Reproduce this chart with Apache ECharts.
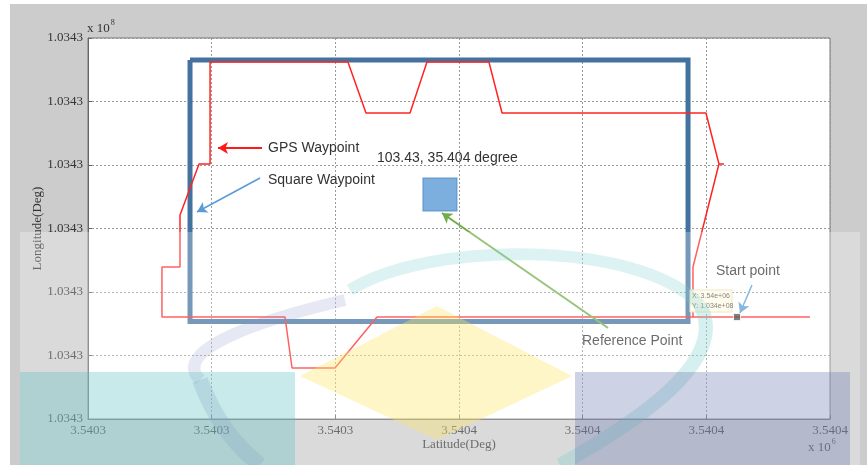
<!DOCTYPE html>
<html>
<head>
<meta charset="utf-8">
<script src="https://cdn.jsdelivr.net/npm/echarts@6/dist/echarts.min.js"></script>
<style>
  html, body { margin: 0; padding: 0; background: #fff; }
  #frame { position: absolute; left: 10px; top: 4px; width: 857px; height: 461px; background: #cccccc; }
  #main { position: absolute; left: 0; top: 0; width: 867px; height: 465px; }
</style>
</head>
<body>
<div id="frame"></div>
<div id="main"></div>
<script>
// Tick labels (axis values are in tick-step units: 0..6)
var xTickLabels = ['3.5403', '3.5403', '3.5403', '3.5404', '3.5404', '3.5404', '3.5404'];
var yTickLabels = ['1.0343', '1.0343', '1.0343', '1.0343', '1.0343', '1.0343', '1.0343'];

// GPS waypoint track
var gpsLat = [5.838, 2.337, 1.997, 1.650, 1.593, 0.598, 0.598, 0.744, 0.744, 0.898, 0.987, 0.987,
              2.102, 2.248, 2.604, 2.741, 3.242, 3.348, 4.997, 5.102, 5.143, 5.102, 4.892, 4.892];
var gpsLon = [1.606, 1.606, 0.803, 0.803, 1.606, 1.606, 2.394, 2.394, 3.213, 4.016, 4.016, 5.622,
              5.622, 4.819, 4.819, 5.622, 5.622, 4.819, 4.819, 4.016, 4.016, 4.016, 2.394, 1.606];

// Square waypoint
var squareLat = [0.825, 4.852, 4.852, 0.825, 0.825];
var squareLon = [5.654, 5.654, 1.535, 1.535, 5.654];

// Reference point and start point
var refPoint = [2.846, 3.535];
var startPoint = [5.248, 1.606];

// Annotation arrows: [fromLat, fromLon, toLat, toLon]
var arrowGps = [1.407, 4.268, 1.051, 4.268];
var arrowSquare = [1.391, 3.795, 0.881, 3.260];
var arrowRef = [4.205, 1.433, 2.862, 3.244];
var arrowStart = [5.369, 2.110, 5.272, 1.669];

function zip(a, b) {
    return a.map(function (v, i) { return [v, b[i]]; });
}
function arrow(a, color, width) {
    return [
        {coord: [a[0], a[1]], lineStyle: {color: color, width: width, type: 'solid'}},
        {coord: [a[2], a[3]], lineStyle: {color: color, width: width, type: 'solid'}}
    ];
}

var chart = echarts.init(document.getElementById('main'));

var serif = 'Liberation Serif, Times New Roman, serif';
var sans = 'Liberation Sans, Arial, sans-serif';

chart.setOption({
    animation: false,
    grid: {
        left: 88, top: 38, width: 742, height: 381,
        show: true, backgroundColor: '#fff', borderColor: '#777', borderWidth: 1
    },
    xAxis: {
        type: 'value', min: 0, max: 6, interval: 1,
        name: 'Latitude(Deg)', nameLocation: 'middle', nameGap: 19, nameMoveOverlap: false,
        nameTextStyle: {fontFamily: serif, fontSize: 13, color: '#333'},
        axisLine: {lineStyle: {color: '#666'}},
        axisTick: {inside: true, length: 4, lineStyle: {color: '#666'}},
        axisLabel: {
            fontFamily: serif, fontSize: 13, color: '#333', margin: 5,
            formatter: function (v) { return xTickLabels[Math.round(v)]; }
        },
        splitLine: {lineStyle: {color: '#999', type: [2, 2]}}
    },
    yAxis: {
        type: 'value', min: 0, max: 6, interval: 1,
        name: 'Longitude(Deg)', nameLocation: 'middle', nameGap: 44, nameMoveOverlap: false,
        nameTextStyle: {fontFamily: serif, fontSize: 13, color: '#333'},
        axisLine: {show: true, lineStyle: {color: '#666'}},
        axisTick: {show: true, inside: true, length: 4, lineStyle: {color: '#666'}},
        axisLabel: {
            fontFamily: serif, fontSize: 13, color: '#333', margin: 5,
            formatter: function (v) { return yTickLabels[Math.round(v)]; }
        },
        splitLine: {lineStyle: {color: '#999', type: [2, 2]}}
    },
    series: [
        {
            name: 'Square Waypoint', type: 'line', data: zip(squareLat, squareLon),
            symbol: 'none', lineStyle: {color: '#43729f', width: 5, join: 'miter'},
            z: 2
        },
        {
            name: 'GPS Waypoint', type: 'line', data: zip(gpsLat, gpsLon),
            symbol: 'none', lineStyle: {color: '#ff2424', width: 1.5},
            z: 3,
            markLine: {
                silent: true, symbol: ['none', 'arrow'], symbolSize: [9, 10],
                label: {show: false},
                data: [
                    arrow(arrowGps, '#ff1a1a', 2),
                    arrow(arrowSquare, '#5b9bd5', 1.5),
                    arrow(arrowRef, '#70ad47', 2),
                    arrow(arrowStart, '#5b9bd5', 1.5)
                ]
            }
        },
        {
            name: 'Reference Point', type: 'scatter', data: [refPoint],
            symbol: 'rect', symbolSize: [34, 33],
            itemStyle: {color: '#5b9bd5', borderColor: '#4a86c0', borderWidth: 1},
            z: 4
        },
        {
            name: 'Start point', type: 'scatter', data: [startPoint],
            symbol: 'rect', symbolSize: 7,
            itemStyle: {color: '#222', borderColor: '#fff', borderWidth: 1},
            z: 5
        }
    ],
    graphic: [
        {type: 'text', left: 87, top: 19, z: 20, style: {
            text: '{a|x 10}{b|8}', fill: '#333',
            rich: {a: {fontFamily: serif, fontSize: 13, verticalAlign: 'bottom'},
                   b: {fontFamily: serif, fontSize: 8, verticalAlign: 'top', padding: [0, 0, 8, 1]}}
        }},
        {type: 'text', left: 808, top: 438, z: 20, style: {
            text: '{a|x 10}{b|6}', fill: '#333',
            rich: {a: {fontFamily: serif, fontSize: 13, verticalAlign: 'bottom'},
                   b: {fontFamily: serif, fontSize: 8, verticalAlign: 'top', padding: [0, 0, 8, 1]}}
        }},
        {type: 'text', x: 268, y: 148, z: 20, style: {
            text: 'GPS Waypoint', fontFamily: sans, fontSize: 14, fill: '#333', verticalAlign: 'middle'}},
        {type: 'text', x: 268, y: 180, z: 20, style: {
            text: 'Square Waypoint', fontFamily: sans, fontSize: 14, fill: '#333', verticalAlign: 'middle'}},
        {type: 'text', x: 377, y: 158, z: 20, style: {
            text: '103.43, 35.404 degree', fontFamily: sans, fontSize: 14, fill: '#333', verticalAlign: 'middle'}},
        {type: 'text', x: 582, y: 341, z: 20, style: {
            text: 'Reference Point', fontFamily: sans, fontSize: 14, fill: '#333', verticalAlign: 'middle'}},
        {type: 'text', x: 716, y: 271, z: 20, style: {
            text: 'Start point', fontFamily: sans, fontSize: 14, fill: '#333', verticalAlign: 'middle'}},
        {type: 'rect', shape: {x: 690, y: 290, width: 42, height: 22}, z: 20,
            style: {fill: '#fffbe3', stroke: '#e6dfb8', lineWidth: 1}},
        {type: 'text', x: 692, y: 296, z: 21, style: {
            text: 'X: 3.54e+06', fontFamily: sans, fontSize: 7, fill: '#555', verticalAlign: 'middle'}},
        {type: 'text', x: 692, y: 306, z: 21, style: {
            text: 'Y: 1.034e+08', fontFamily: sans, fontSize: 7, fill: '#555', verticalAlign: 'middle'}},

        // faint watermark overlay
        {type: 'rect', shape: {x: 20, y: 232, width: 840, height: 233}, z: 50, silent: true,
            style: {fill: 'rgba(255,255,255,0.28)'}},
        {type: 'polygon', shape: {points: [[437, 306], [572, 376], [437, 440], [300, 376]]}, z: 51, silent: true,
            style: {fill: 'rgba(252,230,100,0.36)'}},
        {type: 'bezierCurve', shape: {x1: 345, y1: 300, x2: 200, y2: 380, cpx1: 260, cpy1: 320, cpx2: 170, cpy2: 350}, z: 52, silent: true,
            style: {stroke: 'rgba(140,150,200,0.22)', lineWidth: 12, fill: 'none'}},
        {type: 'bezierCurve', shape: {x1: 200, y1: 380, x2: 260, y2: 465, cpx1: 215, cpy1: 420, cpx2: 235, cpy2: 445}, z: 52, silent: true,
            style: {stroke: 'rgba(140,150,200,0.25)', lineWidth: 16, fill: 'none'}},
        {type: 'bezierCurve', shape: {x1: 350, y1: 290, x2: 700, y2: 305, cpx1: 430, cpy1: 240, cpx2: 640, cpy2: 240}, z: 52, silent: true,
            style: {stroke: 'rgba(120,205,205,0.25)', lineWidth: 12, fill: 'none'}},
        {type: 'bezierCurve', shape: {x1: 700, y1: 305, x2: 560, y2: 465, cpx1: 730, cpy1: 360, cpx2: 640, cpy2: 420}, z: 52, silent: true,
            style: {stroke: 'rgba(120,205,205,0.3)', lineWidth: 14, fill: 'none'}},
        {type: 'rect', shape: {x: 20, y: 372, width: 275, height: 93}, z: 53, silent: true,
            style: {fill: 'rgba(90,190,190,0.33)'}},
        {type: 'rect', shape: {x: 575, y: 372, width: 275, height: 93}, z: 53, silent: true,
            style: {fill: 'rgba(100,115,170,0.32)'}}
    ]
});
</script>
</body>
</html>
